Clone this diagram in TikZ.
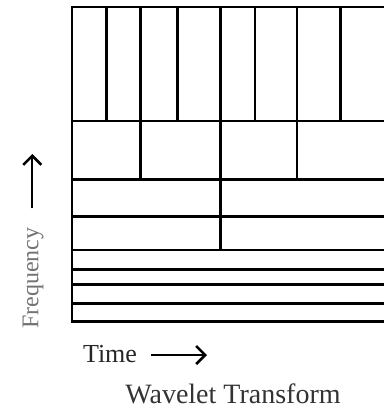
\documentclass[tikz,border=0pt]{standalone}
\usepackage{fontspec}
\setmainfont{Liberation Serif}
\usetikzlibrary{arrows.meta}
\begin{document}
\begin{tikzpicture}[x=0.5pt,y=-0.5pt,
  gridline/.style={line width=1.35pt,line cap=rect},
  axisarrow/.style={line width=1.1pt,-{Straight Barb[length=4.5pt,width=9pt,line width=1.3pt]}},
  label/.style={inner sep=0pt}]
\useasboundingbox (0,0) rectangle (384,407);
% outer frame (open on the right)
\draw[gridline] (384,7) -- (72,7) -- (72,321.7) -- (384,321.7);
% horizontal band boundaries
\foreach \y in {121,179.3,216.3,250,269.3,284.3,303.3}
  \draw[gridline] (72,\y) -- (384,\y);
% top band: narrow time cells
\foreach \x in {106.7,140.3,177.7,220.3,255,297,340.7}
  \draw[gridline] (\x,7) -- (\x,121);
% second band
\foreach \x in {140.3,220.3,297}
  \draw[gridline] (\x,121) -- (\x,179.3);
% third and fourth bands
\draw[gridline] (220.3,179.3) -- (220.3,250);
% axis labels
\node[label,rotate=90,text=black!55,font=\fontsize{12}{14}\selectfont] (freq) at (33,278) {Frequency};
\coordinate (fbot) at (32.3,208.3);
\coordinate (ftop) at (32.3,154);
\draw[axisarrow] (fbot) -- (ftop);
\node[label,font=\fontsize{13}{15}\selectfont,text=black!85] (time) at (110,354) {Time};
\coordinate (tstart) at (151,355);
\coordinate (tend) at (207,355);
\draw[axisarrow] (tstart) -- (tend);
\node[label,font=\fontsize{14}{17}\selectfont,text=black!80] (title) at (233,394) {Wavelet Transform};
\end{tikzpicture}
\end{document}
